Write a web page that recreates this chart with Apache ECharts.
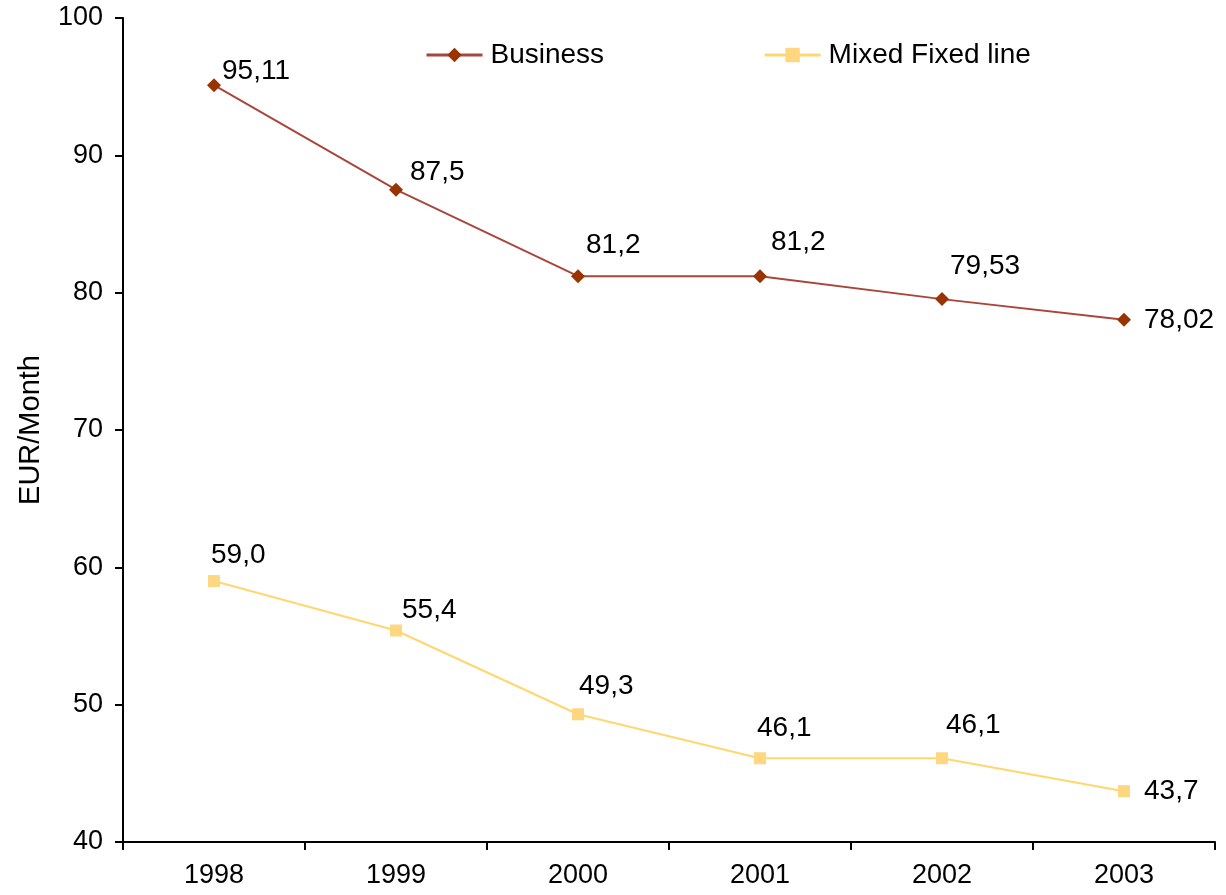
<!DOCTYPE html>
<html>
<head>
<meta charset="utf-8">
<script src="https://cdn.jsdelivr.net/npm/echarts@6/dist/echarts.min.js"></script>
<style>
  html, body { margin: 0; padding: 0; background: #ffffff; }
  #chart { width: 1226px; height: 895px; }
</style>
</head>
<body>
<div id="chart"></div>
<script>
// Monthly price, EUR
const years = ['1998', '1999', '2000', '2001', '2002', '2003'];
const business = [95.11, 87.5, 81.2, 81.2, 79.53, 78.02];
const mixedFixedLine = [59.0, 55.4, 49.3, 46.1, 46.1, 43.7];
const seriesNames = ['Business', 'Mixed Fixed line'];

// Label placement nudges (pixels) for each point's value label
const businessLabelOffsets = [[1, -14], [7, -17], [1, -31], [4, -34], [1, -33], [13, 0]];
const mixedLabelOffsets = [[-9, -26], [0, -20], [-5, -28], [-9, -30], [-2, -33], [14, 0]];

const FONT = '"Liberation Sans", Arial, sans-serif';

function fmtComma(v, decimals) {
  const s = decimals == null ? String(v) : v.toFixed(decimals);
  return s.replace('.', ',');
}

function buildData(values, offsets, decimals) {
  return values.map((v, i) => ({
    value: v,
    label: {
      offset: offsets[i],
      formatter: () => fmtComma(v, decimals)
    }
  }));
}

const chart = echarts.init(document.getElementById('chart'), null, { renderer: 'canvas' });

chart.setOption({
  animation: false,
  backgroundColor: '#ffffff',
  textStyle: { fontFamily: FONT },
  grid: { left: 123, right: 11, top: 18, bottom: 53, containLabel: false },
  legend: {
    left: 420,
    top: 36,
    itemWidth: 56,
    itemHeight: 18,
    itemGap: 159,
    data: seriesNames,
    lineStyle: { width: 3 },
    textStyle: { fontSize: 28, color: '#000000', fontFamily: FONT, padding: [0, 0, 0, 3] }
  },
  xAxis: {
    type: 'category',
    data: years,
    boundaryGap: true,
    axisLine: { lineStyle: { color: '#000000', width: 2 } },
    axisTick: { show: true, length: 8, inside: false, lineStyle: { color: '#000000', width: 2 } },
    axisLabel: { fontSize: 27, color: '#000000', margin: 20, fontFamily: FONT },
    splitLine: { show: false }
  },
  yAxis: {
    type: 'value',
    min: 40,
    max: 100,
    interval: 10,
    name: 'EUR/Month',
    nameLocation: 'middle',
    nameGap: 78,
    nameTextStyle: { fontSize: 29, color: '#000000', fontFamily: FONT },
    axisLine: { show: true, lineStyle: { color: '#000000', width: 2 } },
    axisTick: { show: true, length: 8, inside: false, lineStyle: { color: '#000000', width: 2 } },
    axisLabel: { fontSize: 27, color: '#000000', margin: 20, fontFamily: FONT },
    splitLine: { show: false }
  },
  series: [
    {
      name: seriesNames[0],
      type: 'line',
      data: buildData(business, businessLabelOffsets, null),
      symbol: 'diamond',
      symbolSize: 14,
      lineStyle: { color: '#A9463C', width: 2 },
      itemStyle: { color: '#993300' },
      label: {
        show: true,
        position: 'right',
        distance: 0,
        fontSize: 28,
        color: '#000000',
        fontFamily: FONT
      }
    },
    {
      name: seriesNames[1],
      type: 'line',
      data: buildData(mixedFixedLine, mixedLabelOffsets, 1),
      symbol: 'rect',
      symbolSize: 12,
      lineStyle: { color: '#FFD76E', width: 2 },
      itemStyle: { color: '#FFD780' },
      label: {
        show: true,
        position: 'right',
        distance: 0,
        fontSize: 28,
        color: '#000000',
        fontFamily: FONT
      }
    }
  ]
});
</script>
</body>
</html>
